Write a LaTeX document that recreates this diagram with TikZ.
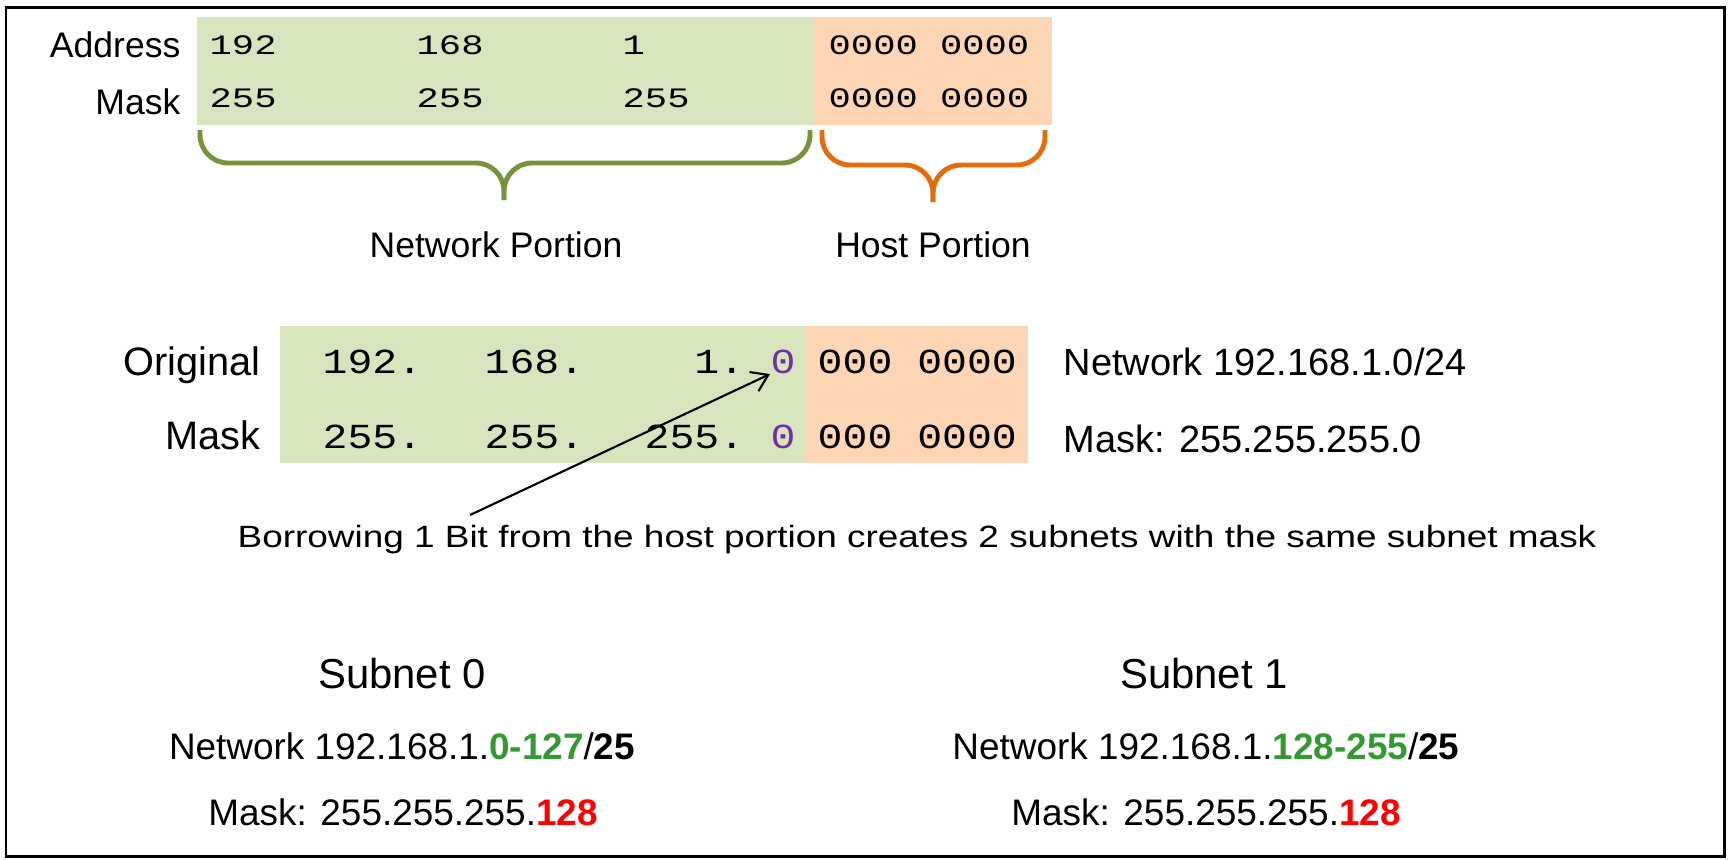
\documentclass[tikz,border=0pt]{standalone}
\usepackage{fontspec}
\setmainfont{Liberation Sans}
\setmonofont{Liberation Mono}
\newfontfamily\widesans[FakeStretch=1.2]{Liberation Sans}
\newfontfamily\topmono[FakeStretch=1.32]{Liberation Mono}
\newfontfamily\midmono[FakeStretch=1.18]{Liberation Mono}
\usetikzlibrary{arrows.meta, positioning, calc}

\definecolor{netgreen}{RGB}{215,228,189}
\definecolor{hostorange}{RGB}{252,213,181}
\definecolor{bracegreen}{RGB}{119,147,60}
\definecolor{braceorange}{RGB}{228,108,10}
\definecolor{bitpurple}{RGB}{112,48,160}
\definecolor{rangegreen}{RGB}{51,153,51}

\begin{document}
\begin{tikzpicture}[
    x=0.01cm, y=-0.01cm,
    toplabel/.style={inner sep=0, font=\fontsize{10.1}{12}\selectfont},
    topnum/.style={inner sep=0, anchor=base west, font=\topmono\fontsize{8}{10}\selectfont},
    midlabel/.style={inner sep=0, anchor=base east, font=\fontsize{11.3}{13}\selectfont},
    midnum/.style={inner sep=0, anchor=base west, font=\midmono\fontsize{10}{12}\selectfont},
    info/.style={inner sep=0, anchor=base west, font=\fontsize{10.8}{13}\selectfont},
    subtitle/.style={inner sep=0, anchor=base, font=\fontsize{11.9}{14}\selectfont},
    subline/.style={inner sep=0, anchor=base, font=\fontsize{10.5}{13}\selectfont},
    netbrace/.style={draw=bracegreen, line width=1.4pt, rounded corners=8},
    hostbrace/.style={draw=braceorange, line width=1.4pt, rounded corners=8},
    pointer/.style={-{Straight Barb[length=4.5pt,width=6pt]}, line width=0.6pt}
]
    \useasboundingbox (0,0) rectangle (1729,859);
    \draw[line width=0.85pt] (6,7) rectangle (1724,856);

    % Top panel: address and mask split into portions
    \fill[netgreen] (197,17) rectangle (814,125);
    \fill[hostorange] (814,17) rectangle (1052,125);

    \node[toplabel, anchor=base east] (addrlbl) at (181,57) {Address};
    \node[toplabel, anchor=base east] (masklbl) at (181,114) {Mask};

    \node[topnum] (a1) at (209,54) {192};
    \node[topnum] (a2) at (416,54) {168};
    \node[topnum] (a3) at (622,54) {1};
    \node[topnum] (a4) at (828,54) {0000 0000};
    \node[topnum] (m1) at (209,107) {255};
    \node[topnum] (m2) at (416,107) {255};
    \node[topnum] (m3) at (622,107) {255};
    \node[topnum] (m4) at (828,107) {0000 0000};

    % Braces
    \draw[netbrace] (200,130) |- (504,163) -- (504,200);
    \draw[netbrace] (810,130) |- (504,163) -- (504,200);
    \draw[hostbrace] (822,130) |- (933,165) -- (933,202);
    \draw[hostbrace] (1045,130) |- (933,165) -- (933,202);

    \node[toplabel, anchor=base] (netpart) at (496,257) {Network Portion};
    \node[toplabel, anchor=base] (hostpart) at (933,257) {Host Portion};

    % Middle panel: original network and mask
    \fill[netgreen] (280,326) rectangle (805,463);
    \fill[hostorange] (805,326) rectangle (1028,463);

    \node[midlabel] (origlbl) at (261,375) {Original};
    \node[midlabel] (mask2lbl) at (261,449) {Mask};

    \node[midnum] (o1) at (322,373) {192.};
    \node[midnum] (o2) at (484,373) {168.};
    \node[midnum, anchor=base east] (o3) at (745,373) {1.};
    \node[midnum, text=bitpurple] (borrow) at (770,373) {0};
    \node[midnum] (o5) at (817,373) {000 0000};
    \node[midnum] (k1) at (322,448) {255.};
    \node[midnum] (k2) at (484,448) {255.};
    \node[midnum, anchor=base east] (k3) at (745,448) {255.};
    \node[midnum, text=bitpurple] (k4) at (770,448) {0};
    \node[midnum] (k5) at (817,448) {000 0000};

    \node[info] (netinfo) at (1063,375) {Network 192.168.1.0/24};
    \node[info] (maskinfo) at (1063,452) {Mask: 255.255.255.0};

    % Borrowed bit
    \node[inner sep=0, anchor=base west, font=\widesans\fontsize{8.75}{12}\selectfont] (note) at (237,547)
        {Borrowing 1 Bit from the host portion creates 2 subnets with the same subnet mask};
    \coordinate (tail) at (470,515);
    \draw[pointer] (tail) -- (borrow.south west);

    % Resulting subnets
    \node[subtitle] (sub0) at (402,688) {Subnet 0};
    \node[subline] (sub0net) at (402,759) {Network 192.168.1.\textcolor{rangegreen}{\textbf{0-127}}/\textbf{25}};
    \node[subline] (sub0mask) at (403,825) {Mask: 255.255.255.\textcolor{red}{\textbf{128}}};

    \node[subtitle] (sub1) at (1204,688) {Subnet 1};
    \node[subline] (sub1net) at (1206,759) {Network 192.168.1.\textcolor{rangegreen}{\textbf{128-255}}/\textbf{25}};
    \node[subline] (sub1mask) at (1206,825) {Mask: 255.255.255.\textcolor{red}{\textbf{128}}};

\end{tikzpicture}
\end{document}
